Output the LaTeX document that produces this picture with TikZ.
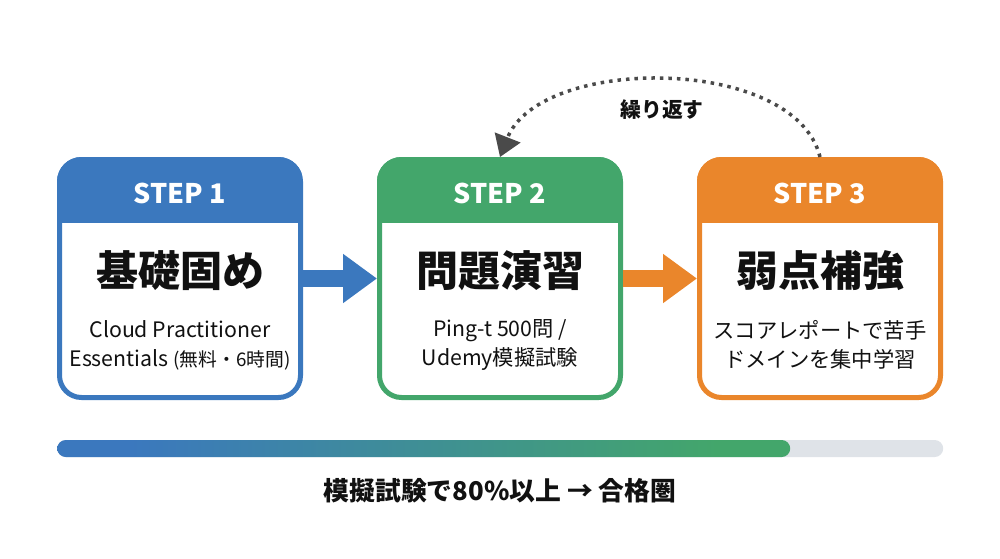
\documentclass[tikz,border=0pt]{standalone}
\usepackage{fontspec}
\setmainfont{Noto Sans CJK JP}
\usetikzlibrary{arrows.meta}
\definecolor{cblue}{HTML}{3B78BE}
\definecolor{cgreen}{HTML}{43A66B}
\definecolor{corange}{HTML}{EA862B}
\definecolor{ctrack}{HTML}{DFE3E8}
\definecolor{cdark}{HTML}{4A4A4A}
\definecolor{cink}{HTML}{111111}
\pgfdeclarehorizontalshading{barfade}{100bp}{color(0bp)=(cblue); color(30bp)=(cblue); color(70bp)=(cgreen); color(100bp)=(cgreen)}
\tikzset{
  card/.style={draw=#1, fill=white, line width=5pt, rounded corners=22pt, minimum width=241pt, minimum height=238pt, inner sep=0pt},
  steplabel/.style={text=white, font=\fontsize{27}{32}\selectfont\bfseries, inner sep=0pt},
  titlelabel/.style={text=cink, font=\fontsize{42}{50}\selectfont\bfseries, inner sep=0pt},
  bodylabel/.style={text=cink, font=\fontsize{21.3}{29}\selectfont, align=center, inner sep=0pt},
  blockarrow/.style={draw=#1, line width=17pt, -{Triangle[length=34pt,width=47pt]}},
  looparrow/.style={draw=cdark, line width=3.5pt, dash pattern=on 3.5pt off 5pt, -{Triangle[length=21pt,width=27pt]}},
  barshape/.style={minimum height=17pt, rounded corners=8.5pt, inner sep=0pt, anchor=west},
  looplabel/.style={text=cink, font=\fontsize{20.8}{24}\selectfont\bfseries, inner sep=0pt},
  goallabel/.style={text=cink, font=\fontsize{25.8}{30}\selectfont\bfseries, inner sep=0pt}
}
\begin{document}
\begin{tikzpicture}[x=1pt,y=-1pt]
\useasboundingbox (0,0) rectangle (1000,558);
\foreach \nm/\cx/\col in {c1/180/cblue,c2/500/cgreen,c3/820/corange}{
  \node[card=\col] (\nm) at (\cx,278.5) {};
  \begin{scope}
    \clip[rounded corners=24.5pt] (\cx-123,157) rectangle (\cx+123,400);
    \fill[\col] (\cx-123,157) rectangle (\cx+123,223);
  \end{scope}
}
\node[steplabel] (s1) at (180,193.5) {STEP 1};
\node[steplabel] (s2) at (500,193.5) {STEP 2};
\node[steplabel] (s3) at (820,193.5) {STEP 3};
\node[titlelabel] (t1) at (180,271) {基礎固め};
\node[titlelabel] (t2) at (500,271) {問題演習};
\node[titlelabel] (t3) at (820,271) {弱点補強};
\node[bodylabel] (b1) at (180,345) {Cloud Practitioner\\Essentials {\fontsize{18.8}{29}\selectfont(無料・6時間)}};
\node[bodylabel] (b2) at (500,345) {Ping-t 500問 /\\Udemy模擬試験};
\node[bodylabel] (b3) at (820,345) {スコアレポートで苦手\\ドメインを集中学習};
\draw[blockarrow=cblue] (c1.east) -- (c2.west);
\draw[blockarrow=corange] (c2.east) -- (c3.west);
\draw[looparrow] (c3.north) .. controls (795,55) and (540,55) .. (c2.north);
\node[looplabel] (loop) at (662,110) {繰り返す};
\node[barshape, fill=ctrack, minimum width=886pt] (track) at (57,448.5) {};
\node[barshape, shading=barfade, minimum width=733pt] (fillbar) at (57,448.5) {};
\node[goallabel] (goal) at (500,491) {模擬試験で80\%以上 → 合格圏};
\end{tikzpicture}
\end{document}
